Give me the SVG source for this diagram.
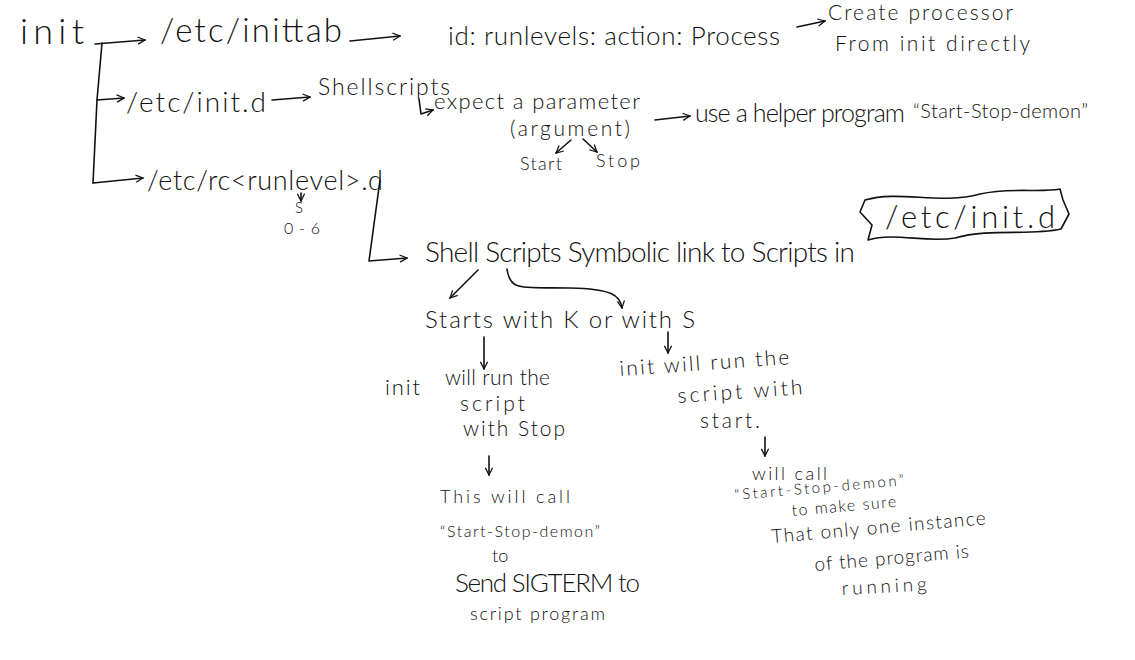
<svg xmlns="http://www.w3.org/2000/svg" width="1135" height="660" viewBox="0 0 1135 660">
<style>
text{font-family:"Lato","Liberation Sans",sans-serif;font-weight:300;fill:#111}
.l{fill:none;stroke:#111;stroke-width:1.6;stroke-linecap:round;stroke-linejoin:round}
.a{marker-end:url(#ah)}
</style>
<defs>
<marker id="ah" viewBox="0 0 10 10" refX="9" refY="5" markerWidth="9" markerHeight="9" markerUnits="userSpaceOnUse" orient="auto">
<path d="M1,1 L9,5 L1,9" fill="none" stroke="#111" stroke-width="1.4"/>
</marker>
</defs>
<rect width="1135" height="660" fill="#fff"/>
<g id="connectors">
<path class="l a" d="M95,44 L145,40"/>
<path class="l" d="M102,43 L97,100 L93,183"/>
<path class="l a" d="M97,100 L124,98"/>
<path class="l a" d="M93,183 L143,178"/>
<path class="l a" d="M350,41 L400,36"/>
<path class="l a" d="M797,27 L825,21"/>
<path class="l a" d="M272,100 L310,97"/>
<path class="l a" d="M419,99 L421,114 L433,110"/>
<path class="l a" d="M571,140 L556,153"/>
<path class="l a" d="M583,139 L597,152"/>
<path class="l a" d="M655,120 L690,116"/>
<path class="l a" d="M301,193 L301,201"/>
<path class="l a" d="M380,180 L369,261 L407,258"/>
<path class="l a" d="M478,270 L450,298"/>
<path class="l a" d="M507,269 C510,292 522,287 570,288 C612,289 620,295 622,308"/>
<path class="l a" d="M484,337 L484,369"/>
<path class="l a" d="M668,332 L668,353"/>
<path class="l a" d="M489,456 L489,475"/>
<path class="l a" d="M765,437 L765,456"/>
</g>
<g id="n-init"><text x="20" y="44" font-size="36" textLength="64" lengthAdjust="spacing">init</text></g>
<g id="n-inittab"><text x="160" y="42" font-size="33" textLength="182" lengthAdjust="spacing">/etc/inittab</text></g>
<g id="n-idline"><text x="448" y="45" font-size="26" textLength="332" lengthAdjust="spacing">id: runlevels: action: Process</text></g>
<g id="n-create">
<text x="828" y="20" font-size="21" textLength="185" lengthAdjust="spacing">Create processor</text>
<text x="835" y="51" font-size="21" textLength="195" lengthAdjust="spacing">From init directly</text>
</g>
<g id="n-initd"><text x="126" y="112" font-size="28" textLength="140" lengthAdjust="spacing">/etc/init.d</text></g>
<g id="n-shellscripts"><text x="318" y="95" font-size="23" textLength="132" lengthAdjust="spacing">Shellscripts</text></g>
<g id="n-expect">
<text x="434" y="109" font-size="22" textLength="206" lengthAdjust="spacing">expect a parameter</text>
<text x="510" y="136" font-size="21" textLength="120" lengthAdjust="spacing">(argument)</text>
</g>
<g id="n-start"><text x="520" y="170" font-size="18" textLength="42" lengthAdjust="spacing">Start</text></g>
<g id="n-stop"><text x="596" y="167" font-size="18" textLength="44" lengthAdjust="spacing">Stop</text></g>
<g id="n-helper">
<text x="695" y="122" font-size="25" textLength="210" lengthAdjust="spacing">use a helper program</text>
<text x="913" y="118" font-size="20" textLength="175" lengthAdjust="spacing">“Start-Stop-demon”</text>
</g>
<g id="n-rc">
<text x="147" y="190" font-size="27" textLength="236" lengthAdjust="spacing">/etc/rc&lt;runlevel&gt;.d</text>
<text x="295" y="213" font-size="15">S</text>
<text x="284" y="234" font-size="16" textLength="36" lengthAdjust="spacing">0-6</text>
</g>
<g id="n-symlink">
<text x="425" y="262" font-size="28" textLength="430" lengthAdjust="spacing">Shell Scripts Symbolic link to Scripts in</text>
<path class="l" d="M865,200 C900,190 940,205 980,194 C1010,187 1040,193 1060,189 L1063,200 L1069,214 L1061,229 C1030,236 990,228 955,238 C925,243 895,232 868,240 L872,225 L860,212 Z"/>
<text x="885" y="228" font-size="31" textLength="170" lengthAdjust="spacing">/etc/init.d</text>
</g>
<g id="n-starts"><text x="425" y="328" font-size="24" textLength="270" lengthAdjust="spacing">Starts with K or with S</text></g>
<g id="n-stopbranch">
<text x="385" y="395" font-size="22" textLength="35" lengthAdjust="spacing">init</text>
<text x="445" y="385" font-size="21" textLength="105" lengthAdjust="spacing">will run the</text>
<text x="460" y="411" font-size="21" textLength="65" lengthAdjust="spacing">script</text>
<text x="463" y="436" font-size="21" textLength="102" lengthAdjust="spacing">with Stop</text>
</g>
<g id="n-sigterm">
<text x="440" y="503" font-size="18" textLength="130" lengthAdjust="spacing">This will call</text>
<text x="440" y="537" font-size="16" textLength="160" lengthAdjust="spacing">“Start-Stop-demon”</text>
<text x="492" y="562" font-size="18">to</text>
<text x="455" y="592" font-size="26" textLength="185" lengthAdjust="spacing">Send SIGTERM to</text>
<text x="470" y="620" font-size="18" textLength="135" lengthAdjust="spacing">script program</text>
</g>
<g id="n-startbranch">
<text x="620" y="376" font-size="21" textLength="170" lengthAdjust="spacing" transform="rotate(-4 620 376)">init will run the</text>
<text x="678" y="403" font-size="21" textLength="125" lengthAdjust="spacing" transform="rotate(-4 678 403)">script with</text>
<text x="700" y="428" font-size="21" textLength="60" lengthAdjust="spacing">start.</text>
</g>
<g id="n-onlyone">
<text x="752" y="480" font-size="18" textLength="75" lengthAdjust="spacing">will call</text>
<text x="735" y="500" font-size="15" textLength="170" lengthAdjust="spacing" transform="rotate(-5 735 500)">“Start-Stop-demon”</text>
<text x="792" y="516" font-size="16" textLength="105" lengthAdjust="spacing" transform="rotate(-5 792 516)">to make sure</text>
<text x="772" y="543" font-size="19" textLength="215" lengthAdjust="spacing" transform="rotate(-5 772 543)">That only one instance</text>
<text x="815" y="571" font-size="19" textLength="155" lengthAdjust="spacing" transform="rotate(-5 815 571)">of the program is</text>
<text x="842" y="595" font-size="19" textLength="85" lengthAdjust="spacing" transform="rotate(-3 842 595)">running</text>
</g>
</svg>
